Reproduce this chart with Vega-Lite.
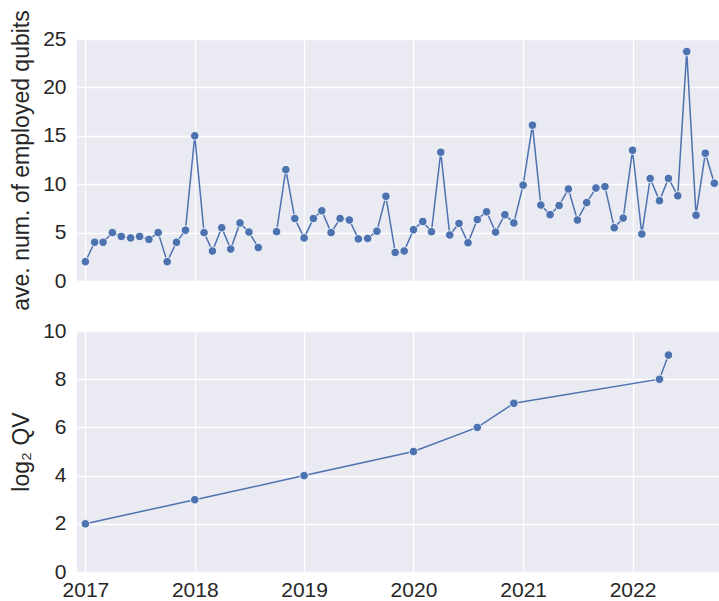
{
  "$schema": "https://vega.github.io/schema/vega-lite/v6.json",
  "background": "white",
  "padding": {"left": 10, "top": 9, "right": 0, "bottom": 1},
  "bounds": "flush",
  "spacing": 50,
  "config": {
    "view": {"fill": "#EAEAF2", "stroke": null},
    "axis": {
      "labelFont": "Liberation Sans",
      "titleFont": "Liberation Sans",
      "labelFontSize": 21,
      "titleFontSize": 23,
      "labelColor": "#262626",
      "titleColor": "#262626",
      "titleFontWeight": "normal",
      "gridColor": "white",
      "gridWidth": 1.3,
      "gridOpacity": 1,
      "domain": false,
      "ticks": false,
      "labelPadding": 11,
      "titlePadding": 9
    }
  },
  "datasets": {
    "qubits": [
      {"date": "2017-01-01", "qubits": 2.0},
      {"date": "2017-02-01", "qubits": 4.0},
      {"date": "2017-03-01", "qubits": 4.0},
      {"date": "2017-04-01", "qubits": 5.0},
      {"date": "2017-05-01", "qubits": 4.6},
      {"date": "2017-06-01", "qubits": 4.45},
      {"date": "2017-07-01", "qubits": 4.6},
      {"date": "2017-08-01", "qubits": 4.3},
      {"date": "2017-09-01", "qubits": 5.0},
      {"date": "2017-10-01", "qubits": 2.0},
      {"date": "2017-11-01", "qubits": 4.0},
      {"date": "2017-12-01", "qubits": 5.25},
      {"date": "2018-01-01", "qubits": 15.0},
      {"date": "2018-02-01", "qubits": 5.0},
      {"date": "2018-03-01", "qubits": 3.1},
      {"date": "2018-04-01", "qubits": 5.5},
      {"date": "2018-05-01", "qubits": 3.3},
      {"date": "2018-06-01", "qubits": 6.0},
      {"date": "2018-07-01", "qubits": 5.05},
      {"date": "2018-08-01", "qubits": 3.45},
      {"date": "2018-09-01", "qubits": null},
      {"date": "2018-10-01", "qubits": 5.1},
      {"date": "2018-11-01", "qubits": 11.5},
      {"date": "2018-12-01", "qubits": 6.45},
      {"date": "2019-01-01", "qubits": 4.45},
      {"date": "2019-02-01", "qubits": 6.45},
      {"date": "2019-03-01", "qubits": 7.25},
      {"date": "2019-04-01", "qubits": 5.0},
      {"date": "2019-05-01", "qubits": 6.45},
      {"date": "2019-06-01", "qubits": 6.3},
      {"date": "2019-07-01", "qubits": 4.35},
      {"date": "2019-08-01", "qubits": 4.4},
      {"date": "2019-09-01", "qubits": 5.15},
      {"date": "2019-10-01", "qubits": 8.75},
      {"date": "2019-11-01", "qubits": 2.95},
      {"date": "2019-12-01", "qubits": 3.1},
      {"date": "2020-01-01", "qubits": 5.3},
      {"date": "2020-02-01", "qubits": 6.15},
      {"date": "2020-03-01", "qubits": 5.1},
      {"date": "2020-04-01", "qubits": 13.3},
      {"date": "2020-05-01", "qubits": 4.75},
      {"date": "2020-06-01", "qubits": 5.95},
      {"date": "2020-07-01", "qubits": 3.95},
      {"date": "2020-08-01", "qubits": 6.35},
      {"date": "2020-09-01", "qubits": 7.15},
      {"date": "2020-10-01", "qubits": 5.05},
      {"date": "2020-11-01", "qubits": 6.85},
      {"date": "2020-12-01", "qubits": 6.0},
      {"date": "2021-01-01", "qubits": 9.9},
      {"date": "2021-02-01", "qubits": 16.1},
      {"date": "2021-03-01", "qubits": 7.85},
      {"date": "2021-04-01", "qubits": 6.85},
      {"date": "2021-05-01", "qubits": 7.8},
      {"date": "2021-06-01", "qubits": 9.5},
      {"date": "2021-07-01", "qubits": 6.3},
      {"date": "2021-08-01", "qubits": 8.1},
      {"date": "2021-09-01", "qubits": 9.6},
      {"date": "2021-10-01", "qubits": 9.75},
      {"date": "2021-11-01", "qubits": 5.5},
      {"date": "2021-12-01", "qubits": 6.5},
      {"date": "2022-01-01", "qubits": 13.5},
      {"date": "2022-02-01", "qubits": 4.85},
      {"date": "2022-03-01", "qubits": 10.6},
      {"date": "2022-04-01", "qubits": 8.3},
      {"date": "2022-05-01", "qubits": 10.6},
      {"date": "2022-06-01", "qubits": 8.8},
      {"date": "2022-07-01", "qubits": 23.7},
      {"date": "2022-08-01", "qubits": 6.8},
      {"date": "2022-09-01", "qubits": 13.2},
      {"date": "2022-10-01", "qubits": 10.1}
    ],
    "qv": [
      {"date": "2017-01-01", "log2qv": 2},
      {"date": "2018-01-01", "log2qv": 3},
      {"date": "2019-01-01", "log2qv": 4},
      {"date": "2020-01-01", "log2qv": 5},
      {"date": "2020-08-01", "log2qv": 6},
      {"date": "2020-12-01", "log2qv": 7},
      {"date": "2022-04-01", "log2qv": 8},
      {"date": "2022-05-01", "log2qv": 9}
    ]
  },
  "vconcat": [
    {
      "width": 643,
      "height": 242,
      "data": {"name": "qubits"},
      "encoding": {
        "x": {
          "field": "date",
          "type": "temporal",
          "scale": {"type": "utc", "domain": [{"year": 2016, "month": 12, "date": 4, "utc": true}, {"year": 2022, "month": 10, "date": 20, "utc": true}]},
          "axis": {
            "title": null,
            "labels": false,
            "values": [{"year": 2017, "utc": true}, {"year": 2018, "utc": true}, {"year": 2019, "utc": true}, {"year": 2020, "utc": true}, {"year": 2021, "utc": true}, {"year": 2022, "utc": true}]
          }
        },
        "y": {
          "field": "qubits",
          "type": "quantitative",
          "scale": {"domain": [0, 25], "nice": false},
          "axis": {"title": "ave. num. of employed qubits", "values": [0, 5, 10, 15, 20, 25]}
        }
      },
      "layer": [
        {"mark": {"type": "line", "color": "#4C72B0", "strokeWidth": 1.5, "invalid": "break-paths-filter-domains"}},
        {"mark": {"type": "point", "filled": true, "color": "#4C72B0", "opacity": 1, "stroke": "white", "strokeWidth": 0.8, "size": 72}}
      ]
    },
    {
      "width": 643,
      "height": 241,
      "data": {"name": "qv"},
      "encoding": {
        "x": {
          "field": "date",
          "type": "temporal",
          "scale": {"type": "utc", "domain": [{"year": 2016, "month": 12, "date": 4, "utc": true}, {"year": 2022, "month": 10, "date": 20, "utc": true}]},
          "axis": {
            "title": null,
            "format": "%Y",
            "labelPadding": 7,
            "values": [{"year": 2017, "utc": true}, {"year": 2018, "utc": true}, {"year": 2019, "utc": true}, {"year": 2020, "utc": true}, {"year": 2021, "utc": true}, {"year": 2022, "utc": true}]
          }
        },
        "y": {
          "field": "log2qv",
          "type": "quantitative",
          "scale": {"domain": [0, 10], "nice": false},
          "axis": {"title": "log₂ QV", "values": [0, 2, 4, 6, 8, 10]}
        }
      },
      "layer": [
        {"mark": {"type": "line", "color": "#4C72B0", "strokeWidth": 1.5}},
        {"mark": {"type": "point", "filled": true, "color": "#4C72B0", "opacity": 1, "stroke": "white", "strokeWidth": 0.8, "size": 72}}
      ]
    }
  ]
}
